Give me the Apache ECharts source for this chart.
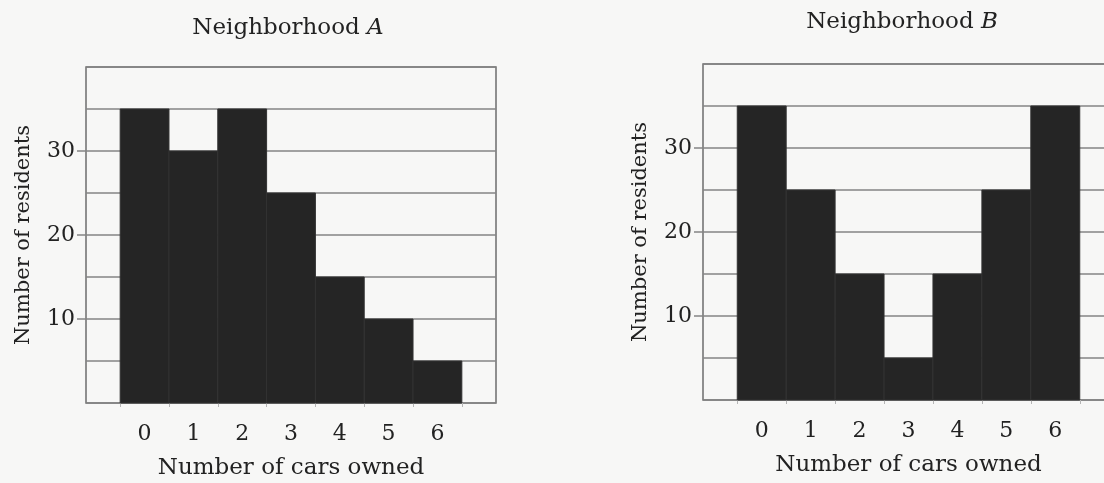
<!DOCTYPE html>
<html>
<head>
<meta charset="utf-8">
<script src="https://cdn.jsdelivr.net/npm/echarts@6/dist/echarts.min.js"></script>
<style>
html,body{margin:0;padding:0;background:#f7f7f6;}
#chart{width:1104px;height:483px;}
</style>
</head>
<body>
<div id="chart"></div>
<script>
// ---- data ----
const carsOwned = [0, 1, 2, 3, 4, 5, 6];
const residentsA = [35, 30, 35, 25, 15, 10, 5];
const residentsB = [35, 25, 15, 5, 15, 25, 35];
const yLabelValues = [10, 20, 30];
const binEdges = [-0.5, 0.5, 1.5, 2.5, 3.5, 4.5, 5.5, 6.5];
const titleA = 'Neighborhood ';
const titleB = 'Neighborhood ';
const letterA = 'A';
const letterB = 'B';
const xTitle = 'Number of cars owned';
const yTitle = 'Number of residents';

const FONT = 'DejaVu Serif';
const TEXT = '#222222';
const GRIDC = '#858585';

function makeX(gridIndex) {
  return {
    type: 'value', gridIndex: gridIndex, min: -1.2, max: 7.2,
    axisLine: { show: false },
    splitLine: { show: false },
    axisTick: { show: true, customValues: binEdges, length: 4, lineStyle: { color: '#b5b5b5', width: 1 } },
    axisLabel: { customValues: carsOwned, margin: 20, fontFamily: FONT, fontSize: 22, color: TEXT },
    name: xTitle, nameLocation: 'middle', nameGap: 54,
    nameTextStyle: { fontFamily: FONT, fontSize: 23, color: TEXT }
  };
}
// axis used only for the horizontal grid lines every 5
function makeGridY(gridIndex) {
  return {
    type: 'value', gridIndex: gridIndex, min: 0, max: 40, interval: 5, position: 'left',
    axisLine: { show: false },
    axisTick: { show: false },
    axisLabel: { show: false },
    splitLine: { show: true, lineStyle: { color: GRIDC, width: 1.5 } }
  };
}
// axis carrying the labelled ticks and the name
function makeLabelY(gridIndex) {
  return {
    type: 'value', gridIndex: gridIndex, min: 0, max: 40, interval: 5, position: 'left', offset: 0,
    axisLine: { show: false },
    splitLine: { show: false },
    axisTick: { show: true, customValues: yLabelValues, length: 9, lineStyle: { color: GRIDC, width: 1.5 } },
    axisLabel: { customValues: yLabelValues, margin: 11, fontFamily: FONT, fontSize: 22, color: TEXT },
    name: yTitle, nameLocation: 'middle', nameGap: 52, nameRotate: 90,
    nameTextStyle: { fontFamily: FONT, fontSize: 21, color: TEXT }
  };
}
function renderBar(params, api) {
  const x = api.value(0), y = api.value(1);
  const p1 = api.coord([x - 0.5, y]);
  const p2 = api.coord([x + 0.5, 0]);
  return {
    type: 'rect',
    shape: { x: p1[0], y: p1[1], width: p2[0] - p1[0], height: p2[1] - p1[1] },
    style: { fill: '#252525', stroke: '#323232', lineWidth: 1 }
  };
}
const titleRich = {
  n: { fontFamily: FONT, fontSize: 23, color: TEXT, fontWeight: 'normal' },
  i: { fontFamily: FONT, fontSize: 23, color: TEXT, fontStyle: 'italic', fontWeight: 'normal' }
};

const chart = echarts.init(document.getElementById('chart'), null, { renderer: 'canvas' });
chart.setOption({
  backgroundColor: '#f7f7f6',
  animation: false,
  title: [
    { text: '{n|' + titleA + '}{i|' + letterA + '}', left: 283, top: 12, textAlign: 'center',
      textStyle: { fontWeight: 'normal', rich: titleRich } },
    { text: '{n|' + titleB + '}{i|' + letterB + '}', left: 897, top: 6, textAlign: 'center',
      textStyle: { fontWeight: 'normal', rich: titleRich } }
  ],
  grid: [
    { left: 86, top: 67, width: 410, height: 336, show: true, outerBoundsMode: 'none', containLabel: false,
      backgroundColor: 'transparent', borderColor: '#6e6e6e', borderWidth: 1.5 },
    { left: 703, top: 64, width: 411, height: 336, show: true, outerBoundsMode: 'none', containLabel: false,
      backgroundColor: 'transparent', borderColor: '#6e6e6e', borderWidth: 1.5 }
  ],
  xAxis: [makeX(0), makeX(1)],
  yAxis: [makeGridY(0), makeLabelY(0), makeGridY(1), makeLabelY(1)],
  series: [
    { type: 'custom', xAxisIndex: 0, yAxisIndex: 1, renderItem: renderBar,
      data: carsOwned.map((c, i) => [c, residentsA[i]]) },
    { type: 'custom', xAxisIndex: 1, yAxisIndex: 3, renderItem: renderBar,
      data: carsOwned.map((c, i) => [c, residentsB[i]]) }
  ]
});
</script>
</body>
</html>
